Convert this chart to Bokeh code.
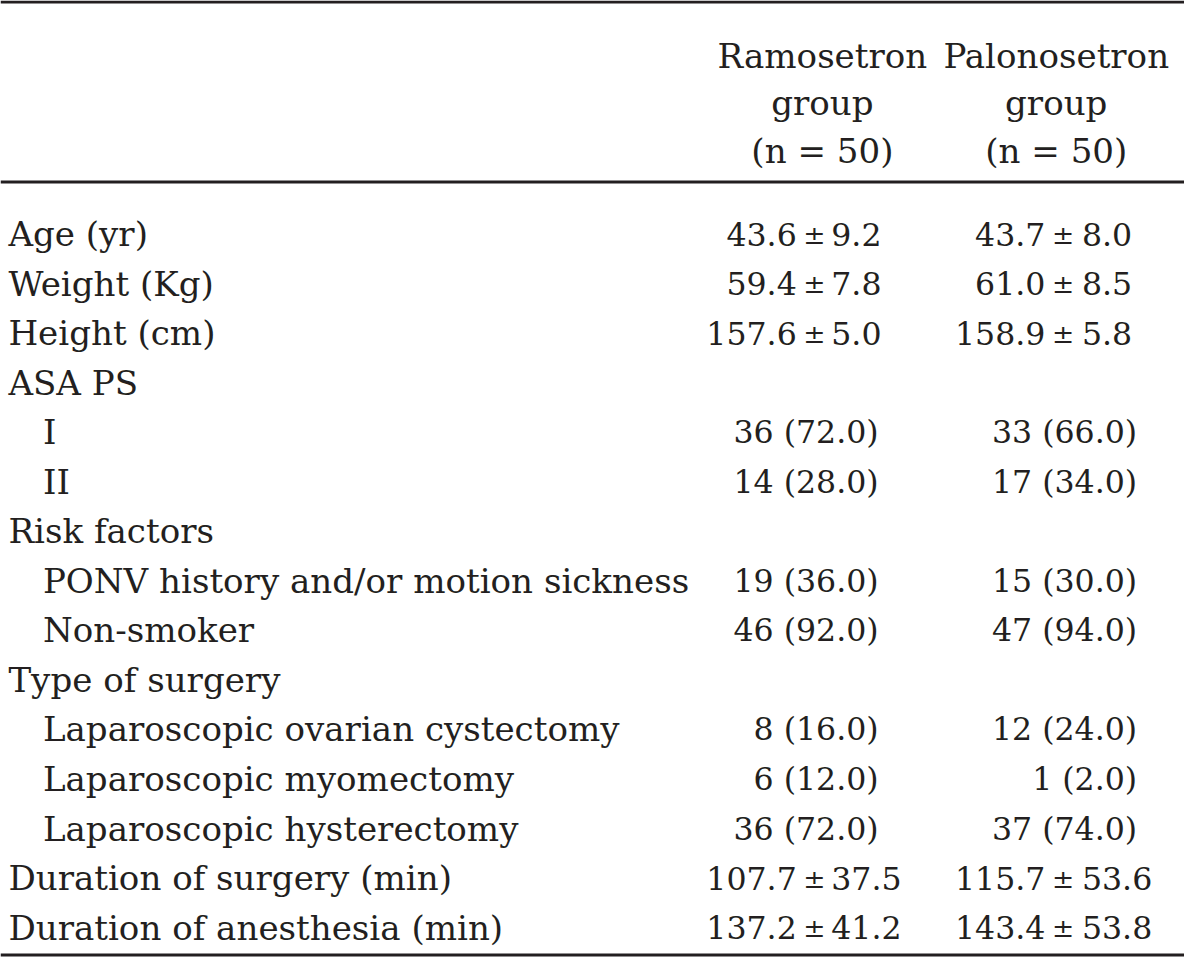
from bokeh.plotting import figure
from bokeh.models import ColumnDataSource, Range1d, Span
from bokeh.core.properties import value
from bokeh.embed import file_html
from bokeh.resources import INLINE

# ---------------- data ----------------
groups = ["Ramosetron", "Palonosetron"]
group_n = [50, 50]

row_labels = [
    "Age (yr)", "Weight (Kg)", "Height (cm)", "ASA PS", "I", "II",
    "Risk factors", "PONV history and/or motion sickness", "Non-smoker",
    "Type of surgery", "Laparoscopic ovarian cystectomy",
    "Laparoscopic myomectomy", "Laparoscopic hysterectomy",
    "Duration of surgery (min)", "Duration of anesthesia (min)",
]
row_indent = [0, 0, 0, 0, 1, 1, 0, 1, 1, 0, 1, 1, 1, 0, 0]
row_kind = ["mean", "mean", "mean", "head", "count", "count", "head", "count",
            "count", "head", "count", "count", "count", "mean", "mean"]

# continuous rows (mean ± SD), in table order
ram_mean = [43.6, 59.4, 157.6, 107.7, 137.2]
ram_sd = [9.2, 7.8, 5.0, 37.5, 41.2]
pal_mean = [43.7, 61.0, 158.9, 115.7, 143.4]
pal_sd = [8.0, 8.5, 5.8, 53.6, 53.8]

# count rows n (%), in table order
ram_n = [36, 14, 19, 46, 8, 6, 36]
ram_pct = [72.0, 28.0, 36.0, 92.0, 16.0, 12.0, 72.0]
pal_n = [33, 17, 15, 47, 12, 1, 37]
pal_pct = [66.0, 34.0, 30.0, 94.0, 24.0, 2.0, 74.0]

# ---------------- layout ----------------
W, H = 1184, 959
FONT = value("DejaVu Serif")
LABEL_SIZE = value("34.1px")
NUM_SIZE = value("31.6px")
PM_SIZE = value("26.6px")
INK = "#231f20"

LABEL_X = [8, 43]
COL_CENTER = [833, 1070]
MEAN_LEFT_END = [807, 1059]
PM_X = [825, 1077]
MEAN_RIGHT_START = [842, 1096]
DEC_X = [847, 1109]
ROW0, PITCH = 237.5, 50.36
HEAD_Y = [56, 104.5, 153]

# the drawing area spans the 1200 x 975 reference frame
p = figure(width=W, height=H, x_range=Range1d(0, 1200), y_range=Range1d(975, 0),
           output_backend="svg", toolbar_location=None,
           x_axis_type=None, y_axis_type=None, min_border=0)
p.grid.visible = False
p.outline_line_color = None
p.background_fill_color = "white"
p.border_fill_color = "white"


def add_text(xs, ys, texts, align, size):
    src = ColumnDataSource(dict(x=xs, y=ys, text=texts))
    p.text(x="x", y="y", text="text", source=src, text_align=align,
           text_baseline="alphabetic", text_font=FONT, text_font_size=size,
           text_color=INK)


# header
hx, hy, ht = [], [], []
for g, name in enumerate(groups):
    for line, t in enumerate([name, "group", f"(n = {group_n[g]})"]):
        hx.append(COL_CENTER[g]); hy.append(HEAD_Y[line]); ht.append(t)
add_text(hx, hy, ht, "center", LABEL_SIZE)

# row labels
ys = [ROW0 + i * PITCH for i in range(len(row_labels))]
add_text([LABEL_X[k] for k in row_indent], ys, row_labels, "left", LABEL_SIZE)

# values
means = [(ram_mean, ram_sd), (pal_mean, pal_sd)]
counts = [(ram_n, ram_pct), (pal_n, pal_pct)]
lx, ly, lt = [], [], []
cx, cy, ct = [], [], []
rx, ry, rt = [], [], []
mi = ci = 0
for i, kind in enumerate(row_kind):
    y = ys[i]
    if kind == "mean":
        for g in range(2):
            m, s = means[g][0][mi], means[g][1][mi]
            lx.append(MEAN_LEFT_END[g]); ly.append(y); lt.append(f"{m:.1f}")
            cx.append(PM_X[g]); cy.append(y); ct.append("±")
            rx.append(MEAN_RIGHT_START[g]); ry.append(y); rt.append(f"{s:.1f}")
        mi += 1
    elif kind == "count":
        for g in range(2):
            n, pct = counts[g][0][ci], counts[g][1][ci]
            ip, fp = f"{pct:.1f}".split(".")
            lx.append(DEC_X[g]); ly.append(y); lt.append(f"{n} ({ip}")
            rx.append(DEC_X[g]); ry.append(y); rt.append(f".{fp})")
        ci += 1
add_text(lx, ly, lt, "right", NUM_SIZE)
add_text(cx, cy, ct, "center", PM_SIZE)
add_text(rx, ry, rt, "left", NUM_SIZE)

# rules
for loc in [1.5, 184.5, 970.5]:
    p.add_layout(Span(location=loc, dimension="width", line_color=INK, line_width=3))

open("out.html", "w").write(file_html(p, INLINE))
